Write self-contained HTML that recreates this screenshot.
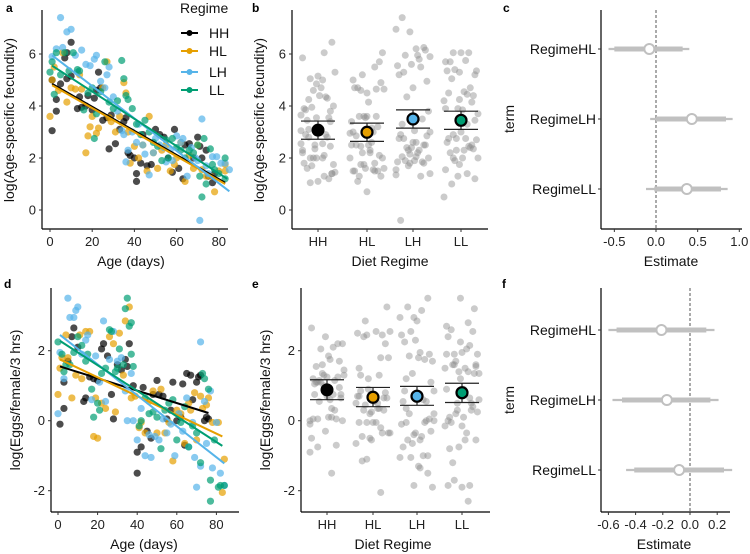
<!DOCTYPE html>
<html><head><meta charset="utf-8">
<style>
html,body{margin:0;padding:0;background:#fff;}
svg{display:block;font-family:"Liberation Sans",sans-serif;}
.tk{font-size:13px;fill:#222;}
.tt{font-size:14px;fill:#111;}
.pl{font-size:12px;font-weight:bold;fill:#000;}
</style></head>
<body>
<svg id="fig" width="750" height="554" viewBox="0 0 750 554"></svg>
<script>
// ---- data: panel a (log age-specific fecundity) ----
const regimes = ["HH","HL","LH","LL"];
const colors = ["#000000","#E69F00","#56B4E9","#009E73"];
const ageA_HH=[1,1,3,3,5,7,8,8,10,10,13,14,15,17,18,20,21,22,23,24,25,27,28,29,31,33,35,36,37,38,40,41,41,43,44,46,48,50,52,54,56,58,59,61,63,64,66,68,70,71,72,74,75,77,78];
const valA_HH=[3.05,5.0,4.25,3.8,4.85,5.85,6.05,5.05,6.45,5.15,3.9,4.35,3.95,4.0,4.4,3.85,4.3,4.6,5.3,4.7,3.45,3.55,2.35,3.65,2.55,3.1,3.4,3.55,2.2,2.1,2.0,1.4,1.1,1.8,2.9,1.7,1.75,3.1,2.9,2.8,2.0,1.45,3.1,1.6,1.2,2.5,2.55,2.0,2.8,2.45,2.0,2.3,1.3,1.05,1.4];
const ageA_HL=[0,1,2,4,6,8,10,12,14,15,17,18,19,20,22,23,25,27,28,29,31,33,35,36,37,38,40,42,44,46,47,49,51,53,55,57,59,60,62,64,66,68,70,72,74,76,78,80,83,83];
const valA_HL=[3.6,5.0,5.5,4.6,6.05,4.15,4.7,4.65,5.2,4.65,2.2,2.85,3.2,3.6,2.95,3.15,4.7,5.7,3.55,3.4,3.0,3.6,4.9,4.5,3.0,1.8,2.45,2.0,2.5,1.5,3.6,2.2,1.6,2.3,2.5,1.5,1.75,2.0,2.6,1.1,2.1,1.6,2.5,1.55,1.3,1.3,0.7,1.5,1.5,1.75];
const ageA_LH=[1,3,5,6,8,10,12,13,15,17,19,21,22,24,26,27,28,30,32,34,35,36,37,39,41,42,44,45,47,49,50,52,54,55,57,58,60,62,63,65,67,69,70,71,72,74,75,77,79,81,83,85];
const valA_LH=[5.9,6.2,7.4,6.25,6.85,6.95,5.95,5.3,6.15,5.6,5.55,5.8,5.95,4.95,4.7,5.2,5.5,4.35,3.8,3.05,2.9,1.85,2.3,3.0,2.6,3.3,2.5,2.15,1.35,2.2,2.75,2.5,2.4,1.85,2.3,1.9,2.85,2.6,2.75,1.3,2.4,2.0,1.9,-0.4,3.5,1.7,1.4,2.05,2.05,1.8,1.8,1.55];
const ageA_LL=[0,1,2,3,5,7,9,11,13,14,16,18,20,21,22,24,26,28,30,32,34,35,36,37,39,41,43,45,47,49,51,53,55,56,58,60,62,64,66,68,70,71,72,73,74,76,77,78,80,83,83];
const valA_LL=[5.3,5.7,4.45,6.05,5.2,6.05,5.35,6.05,5.4,5.35,3.85,4.5,4.7,2.75,3.7,4.55,5.7,4.15,3.9,4.2,5.75,5.05,4.4,4.25,3.9,3.3,2.9,3.45,3.0,2.6,2.45,1.9,2.7,2.0,2.75,2.4,2.3,2.0,2.3,2.2,2.5,1.3,0.5,2.75,1.0,2.35,1.75,1.55,1.4,2.0,1.2];
// regression line endpoints [age0, val0, age1, val1]
const fitA_HH=[1,4.85,83,1.05], fitA_HL=[1,4.8,83,1.0], fitA_LH=[1,5.95,85,0.72], fitA_LL=[1,5.55,84,1.2];
// ---- data: panel d (log eggs/female/3 hrs) ----
const ageD_HH=[1,3,3,5,7,8,10,13,14,16,18,20,22,23,25,27,28,30,32,34,35,36,38,40,40,42,43,45,47,48,50,51,53,55,57,58,60,62,63,64,65,67,68,70,71,72,74,75,76];
const valD_HH=[-0.1,0.35,1.1,1.7,2.4,2.65,2.1,0.55,0.65,1.25,1.2,1.15,2.05,2.2,1.85,0.75,0.05,1.6,1.45,1.75,1.55,2.2,1.0,-0.9,-1.5,-0.75,0.95,-0.3,-0.5,0.75,1.15,0.75,0.7,0.05,0.3,1.1,0.0,0.1,1.05,-0.7,1.35,1.3,0.6,1.1,1.25,1.3,0.0,0.1,0.05];
const ageD_HL=[0,1,2,4,5,7,9,11,12,14,16,18,19,20,22,24,26,28,29,31,33,34,36,37,39,41,42,44,46,48,50,52,54,56,58,60,62,64,66,67,69,70,72,73,75,76,78,81,83,84];
const valD_HL=[0.75,1.5,1.8,2.45,1.8,0.65,1.3,2.45,1.2,2.55,2.55,-0.45,0.65,-0.5,0.5,0.35,2.4,2.2,0.25,2.5,1.3,2.85,3.25,0.65,0.7,-0.2,-0.05,-0.35,0.55,0.85,-0.35,0.9,-0.35,-0.05,-1.15,0.3,0.2,-0.65,0.5,0.3,0.8,-0.55,0.7,0.35,0.45,0.65,-0.05,-0.05,-2.05,-1.1];
const ageD_LH=[0,1,3,5,6,8,9,10,12,14,15,17,19,21,23,24,26,28,30,32,34,35,37,38,40,42,44,46,47,49,51,53,55,57,59,61,63,65,66,68,69,70,72,72,74,75,77,78,80,82,84];
const valD_LH=[0.2,1.95,1.2,3.5,2.95,2.95,3.15,3.25,1.9,2.3,2.45,0.6,1.85,1.1,2.85,0.55,1.75,2.55,1.7,1.8,0.85,0.0,1.35,0.0,-0.55,0.35,-1.0,-0.4,-1.05,-0.45,-0.55,0.05,-0.35,-0.1,-1.0,0.2,-0.3,0.65,-0.75,-0.05,-1.05,-1.9,-1.3,2.25,0.55,-0.65,0.85,-1.35,-0.05,-1.5,-1.85];
const ageD_LL=[0,2,3,4,6,8,10,12,14,15,17,18,20,21,22,24,26,27,29,30,31,33,34,35,36,37,37,38,41,42,44,46,48,50,52,54,56,58,60,62,64,66,68,70,72,73,74,76,77,77,79,81,82,84];
const valD_LL=[2.25,1.9,1.4,1.6,1.6,1.95,2.4,2.15,1.7,1.9,0.9,0.1,0.5,0.3,1.35,1.5,2.6,2.55,1.4,1.5,2.05,1.6,3.2,3.5,2.7,2.8,1.9,1.55,-0.15,0.0,0.65,0.2,0.25,0.1,-0.8,0.3,0.5,0.6,-0.55,-0.05,0.4,-0.75,-0.15,-0.35,-1.2,1.35,1.2,0.9,-2.3,-1.7,-0.55,-1.9,-1.85,-1.85];
const fitD_HH=[1,1.55,76,0.22], fitD_HL=[1,1.75,83,-0.45], fitD_LH=[1,2.45,84,-1.22], fitD_LL=[1,2.28,83,-0.72];
// ---- panel b / e means and CI ----
const meanB=[3.07,2.99,3.5,3.45], loB=[2.72,2.64,3.15,3.1], hiB=[3.42,3.34,3.85,3.8];
const meanE=[0.88,0.67,0.7,0.8], loE=[0.6,0.4,0.44,0.52], hiE=[1.17,0.95,0.98,1.07];
// ---- panel c / f coefficient estimates ----
const terms=["RegimeHL","RegimeLH","RegimeLL"];
const estC=[-0.08,0.43,0.37], c66loC=[-0.5,0.0,-0.02], c66hiC=[0.32,0.84,0.78], c95loC=[-0.57,-0.07,-0.12], c95hiC=[0.4,0.92,0.86];
const estF=[-0.21,-0.17,-0.08], c66loF=[-0.54,-0.5,-0.41], c66hiF=[0.12,0.15,0.25], c95loF=[-0.6,-0.57,-0.47], c95hiF=[0.18,0.21,0.31];
const ticksA=[0,2,4,6], ticksAgeX=[0,20,40,60,80], ticksD=[-2,0,2];
const ticksC=[-0.5,0.0,0.5,1.0], ticksF=[-0.6,-0.4,-0.2,0.0,0.2];

const NS="http://www.w3.org/2000/svg";
const svg=document.getElementById('fig');
function mk(tag,attrs,parent,text){const e=document.createElementNS(NS,tag);for(const k in attrs)e.setAttribute(k,attrs[k]);if(text!==undefined)e.textContent=text;(parent||svg).appendChild(e);return e;}
function grp(name){const g=mk('g',{});return g;}

// scales
const yA=v=>210-v*26, yD=v=>420.7-v*35;
const xA=a=>50+a*2.11, xD=a=>58+a*1.98;
const xB=[318,367,413,461], xE=[327,373,417,462];
const xC=v=>656+v*83.3, xF=v=>690+v*136;
const rowC=[49,119,189], rowF=[330,400,470];

function axes(name,left,top,bottom,right){
  const g=grp(name);
  mk('line',{x1:left,y1:top,x2:left,y2:bottom,stroke:'#000','stroke-width':1.2},g);
  mk('line',{x1:left,y1:bottom,x2:right,y2:bottom,stroke:'#000','stroke-width':1.2},g);
  return g;
}
function yTicks(name,ticks,sc,left,fmt){
  const g=grp(name);
  ticks.forEach(t=>{const y=sc(t);
    mk('line',{x1:left-3,y1:y,x2:left,y2:y,stroke:'#333'},g);
    mk('text',{x:left-6,y:y+4.5,'text-anchor':'end',class:'tk'},g,fmt?fmt(t):String(t));});
}
function xTicks(name,ticks,sc,bottom,fmt){
  const g=grp(name);
  ticks.forEach(t=>{const x=sc(t);
    mk('line',{x1:x,y1:bottom,x2:x,y2:bottom+3,stroke:'#333'},g);
    mk('text',{x:x,y:bottom+17,'text-anchor':'middle',class:'tk'},g,fmt?fmt(t):String(t));});
}
function label(name,txt,x,y,rot,cls){
  const e=mk('text',{x:x,y:y,'text-anchor':'middle',class:cls||'tt',transform:rot?`rotate(-90 ${x} ${y})`:''},svg,txt);
  return e;
}

// ---------- Panel a & d (scatter with fits) ----------
function scatterPanel(p,ages,vals,fits,xs,ys){
  const g=grp('panel-'+p+'-points');
  regimes.forEach((r,k)=>{
    ages[k].forEach((a,i)=>{
      const c=mk('circle',{cx:xs(a),cy:ys(vals[k][i]),r:3.6,fill:colors[k],'fill-opacity':0.7},g);
      
      
    });
  });
  const gl=grp('panel-'+p+'-fit-lines');
  regimes.forEach((r,k)=>{const f=fits[k];
    const l=mk('line',{x1:xs(f[0]),y1:ys(f[1]),x2:xs(f[2]),y2:ys(f[3]),stroke:colors[k],'stroke-width':2},gl);
    
    
  });
}
axes('panel-a-axes',42,10,229,228);
yTicks('panel-a-y-ticks',ticksA,yA,42);
xTicks('panel-a-x-ticks',ticksAgeX,xA,229);
scatterPanel('a',[ageA_HH,ageA_HL,ageA_LH,ageA_LL],[valA_HH,valA_HL,valA_LH,valA_LL],[fitA_HH,fitA_HL,fitA_LH,fitA_LL],xA,yA);
label('panel-a-y-title','log(Age-specific fecundity)',14,120,true);
label('panel-a-x-title','Age (days)',131,266,false);

axes('panel-d-axes',51,288,512,239);
yTicks('panel-d-y-ticks',ticksD,yD,51);
xTicks('panel-d-x-ticks',ticksAgeX,xD,512);
scatterPanel('d',[ageD_HH,ageD_HL,ageD_LH,ageD_LL],[valD_HH,valD_HL,valD_LH,valD_LL],[fitD_HH,fitD_HL,fitD_LH,fitD_LL],xD,yD);
label('panel-d-y-title','log(Eggs/female/3 hrs)',20,400,true);
label('panel-d-x-title','Age (days)',144,549,false);

// legend
const lg=grp('legend');
mk('text',{x:180,y:13,class:'tt'},lg,'Regime');
regimes.forEach((r,k)=>{const y=[33,51,72,90][k];
  const e=grp('legend-entry-'+r.toLowerCase()); lg.appendChild(e);
  mk('line',{x1:181,y1:y,x2:198,y2:y,stroke:colors[k],'stroke-width':2},e);
  mk('circle',{cx:189.5,cy:y,r:3,fill:colors[k]},e);
  mk('text',{x:209,y:y+5,class:'tt'},e,r);
});

// ---------- Panel b & e (jitter + means) ----------
function jitterPanel(p,vals,xc,ys,mean,lo,hi){
  const g=grp('panel-'+p+'-jitter-points');
  regimes.forEach((r,k)=>{
    vals[k].forEach((v,i)=>{
      const off=(((i*37+k*11)%23)/22-0.5)*34;
      const c=mk('circle',{cx:xc[k]+off,cy:ys(v),r:3.5,fill:'#8c8c8c','fill-opacity':0.45},g);
      
      
    });
  });
  const gm=grp('panel-'+p+'-means');
  regimes.forEach((r,k)=>{const x=xc[k];
    const e=grp('mean-ci-'+r.toLowerCase()); gm.appendChild(e);
    mk('line',{x1:x-17,y1:ys(hi[k]),x2:x+17,y2:ys(hi[k]),stroke:'#222','stroke-width':1.2},e);
    mk('line',{x1:x-17,y1:ys(lo[k]),x2:x+17,y2:ys(lo[k]),stroke:'#222','stroke-width':1.2},e);
    mk('line',{x1:x,y1:ys(hi[k]),x2:x,y2:ys(lo[k]),stroke:'#222','stroke-width':1.2},e);
    mk('circle',{cx:x,cy:ys(mean[k]),r:k===0?6.5:5.5,fill:colors[k],stroke:'#000','stroke-width':k===0?0:2.2},e);
  });
}
axes('panel-b-axes',292,10,229,488);
yTicks('panel-b-y-ticks',ticksA,yA,292);
xTicks('panel-b-x-ticks',[0,1,2,3],i=>xB[i],229,i=>regimes[i]);
jitterPanel('b',[valA_HH,valA_HL,valA_LH,valA_LL],xB,yA,meanB,loB,hiB);
label('panel-b-y-title','log(Age-specific fecundity)',264,120,true);
label('panel-b-x-title','Diet Regime',390,266,false);

axes('panel-e-axes',301,288,512,490);
yTicks('panel-e-y-ticks',ticksD,yD,301);
xTicks('panel-e-x-ticks',[0,1,2,3],i=>xE[i],512,i=>regimes[i]);
jitterPanel('e',[valD_HH,valD_HL,valD_LH,valD_LL],xE,yD,meanE,loE,hiE);
label('panel-e-y-title','log(Eggs/female/3 hrs)',270,400,true);
label('panel-e-x-title','Diet Regime',393,549,false);

// ---------- Panel c & f (coefficient plots) ----------
function coefPanel(p,xs,rows,est,l66,h66,l95,h95,left,top,bottom){
  const g=grp('panel-'+p+'-estimates');
  mk('line',{x1:xs(0),y1:top,x2:xs(0),y2:bottom,stroke:'#555','stroke-dasharray':'3,2'},g);
  terms.forEach((t,k)=>{const y=rows[k];
    const e=grp('estimate-'+t.toLowerCase()); g.appendChild(e);
    mk('line',{x1:xs(l95[k]),y1:y,x2:xs(h95[k]),y2:y,stroke:'#c0c0c0','stroke-width':2.2},e);
    mk('line',{x1:xs(l66[k]),y1:y,x2:xs(h66[k]),y2:y,stroke:'#c0c0c0','stroke-width':5},e);
    mk('circle',{cx:xs(est[k]),cy:y,r:5,fill:'#fff',stroke:'#c0c0c0','stroke-width':2},e);
  });
  const gl=grp('panel-'+p+'-term-labels');
  terms.forEach((t,k)=>{
    mk('line',{x1:left-3,y1:rows[k],x2:left,y2:rows[k],stroke:'#333'},gl);
    mk('text',{x:left-5,y:rows[k]+5,'text-anchor':'end',class:'tt'},gl,t);
  });
}
axes('panel-c-axes',601,10,229,742);
xTicks('panel-c-x-ticks',ticksC,xC,229,t=>t.toFixed(1));
coefPanel('c',xC,rowC,estC,c66loC,c66hiC,c95loC,c95hiC,601,10,229);
label('panel-c-y-title','term',514,119,true);
label('panel-c-x-title','Estimate',671,266,false);

axes('panel-f-axes',601,288,512,730);
xTicks('panel-f-x-ticks',ticksF,xF,512,t=>t.toFixed(1));
coefPanel('f',xF,rowF,estF,c66loF,c66hiF,c95loF,c95hiF,601,288,512);
label('panel-f-y-title','term',514,400,true);
label('panel-f-x-title','Estimate',664,549,false);

// panel letters
[['a',6,12],['b',252,12],['c',503,12],['d',4,288],['e',252,288],['f',502,288]].forEach(([l,x,y])=>{
  const e=mk('text',{x:x,y:y,'text-anchor':'start',class:'pl'},svg,l);
  
  
});
</script>
</body></html>
